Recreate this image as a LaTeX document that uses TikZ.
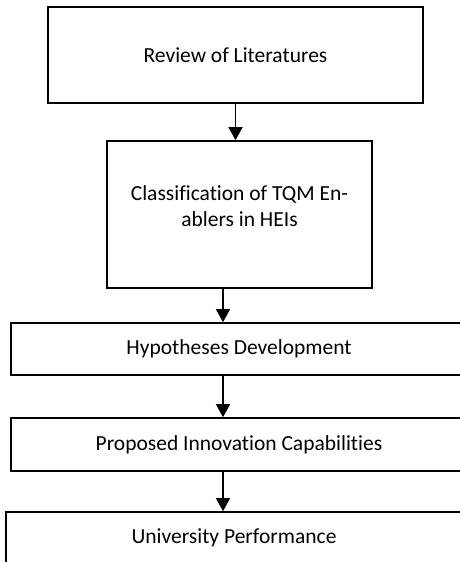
\documentclass[tikz,border=0pt]{standalone}
\usepackage{fontspec}
\setmainfont{Carlito}[Ligatures=CommonOff]
\usetikzlibrary{arrows.meta}
\usetikzlibrary{positioning}

\tikzset{
  stagebox/.style={draw, line width=1.6pt, rectangle, align=center, inner sep=0pt,
    font=\fontsize{21.5}{26}\selectfont},
  flowarrow/.style={line width=1.3pt, -{Triangle[width=14pt,length=13pt]}}
}

\begin{document}
\begin{tikzpicture}[x=1pt,y=1pt]
\useasboundingbox (0,0) rectangle (460,-562);
\node[stagebox, minimum width=375pt, minimum height=96pt] (lit) at (235.5,-55) {Review of Literatures};
\node[stagebox, minimum width=265pt, minimum height=147pt, text depth=16pt] (cls) at (239.5,-214.5) {Classification of TQM En-\\ablers in HEIs};
\node[stagebox, minimum width=456pt, minimum height=52pt] (hyp) at (239,-349) {Hypotheses Development};
\node[stagebox, minimum width=456pt, minimum height=53pt] (prop) at (239,-444.5) {Proposed Innovation Capabilities};
\node[stagebox, minimum width=456pt, minimum height=52pt] (perf) at (234,-538) {University Performance};
\draw[flowarrow] (lit.south) -- (lit.south |- cls.north);
\draw[flowarrow] ([xshift=-16.5pt]cls.south) -- ([xshift=-16.5pt]cls.south |- hyp.north);
\draw[flowarrow] ([xshift=-16pt]hyp.south) -- ([xshift=-16pt]hyp.south |- prop.north);
\draw[flowarrow] ([xshift=-16pt]prop.south) -- ([xshift=-16pt]prop.south |- perf.north);
\end{tikzpicture}
\end{document}
